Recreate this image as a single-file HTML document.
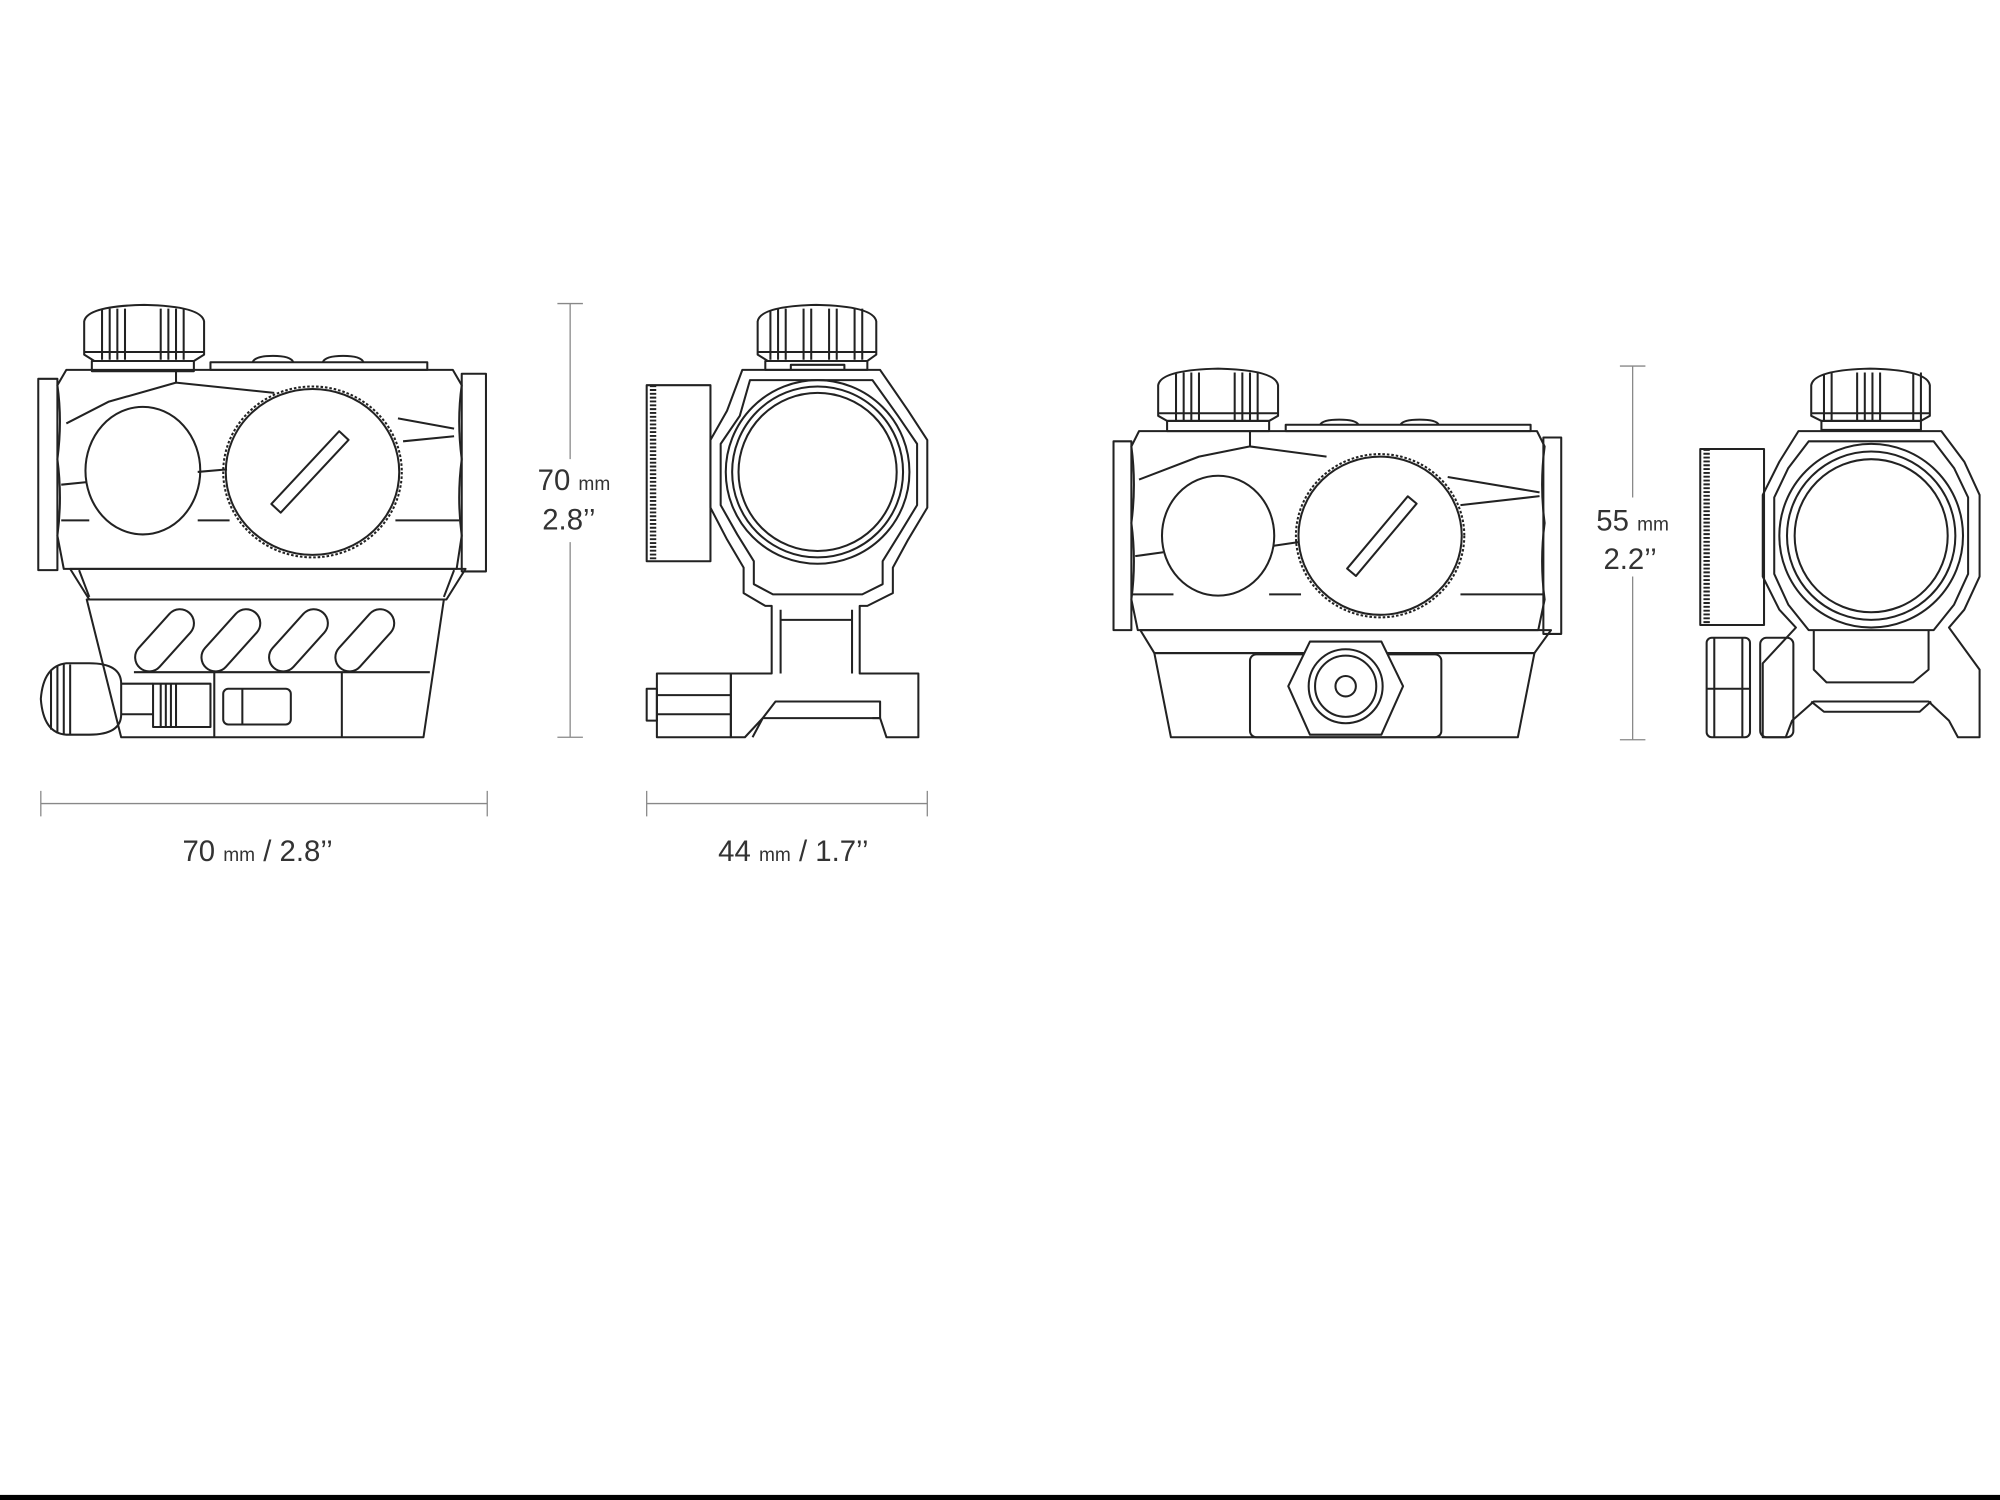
<!DOCTYPE html>
<html><head><meta charset="utf-8"><style>
html,body{margin:0;padding:0;background:#fff;}
svg{display:block;}
text{font-family:"Liberation Sans",sans-serif;fill:#333;}
</style></head><body>
<svg width="2000" height="1500" viewBox="0 0 1568 1176" xmlns="http://www.w3.org/2000/svg">
<rect width="1568" height="1176" fill="#fff"/>
<g fill="none" stroke="#222" stroke-width="1.6" stroke-linejoin="round">

<!-- ===== Sight 1 side ===== -->
<path d="M66,252 Q68,240 113,239 Q158,240 160,252 V278 L152,283 H74 L66,278 Z"/>
<path d="M80,243 V282 M86,242 V282 M92,242 V282 M98,242 V282 M126,242 V282 M132,242 V282 M138,242 V282 M144,242 V282"/>
<path d="M66,276 H160"/>
<rect x="72" y="283" width="80" height="8"/>
<rect x="30" y="297" width="15" height="150"/>
<path d="M52,290 H355 L362,302 Q358,330 362,360 Q358,390 362,420 L358,446 H50 L45,420 Q49,390 45,360 Q49,330 45,302 Z"/>
<rect x="362" y="293" width="19" height="155"/>
<rect x="165" y="284" width="170" height="6"/>
<path d="M198,284 Q200,279 214,279 Q228,279 230,284 M253,284 Q255,279 269,279 Q283,279 285,284"/>
<path d="M52,332 L85,315 L138,300 L215,308 M138,290 V300 M312,328 L356,336 M316,346 L356,342 M48,408 H70 M155,408 H180 M310,408 H360 M48,380 L68,378 M155,370 L178,368"/>
<ellipse cx="112" cy="369" rx="45" ry="50"/>
<ellipse cx="245" cy="370" rx="70" ry="67" stroke-dasharray="2 1.5"/>
<ellipse cx="245" cy="370" rx="68" ry="65"/>
<rect x="204" y="365" width="78" height="10" transform="rotate(-47 243 370)"/>
<path d="M55,446 L365,446 L350,470 H70 Z"/>
<path d="M62,447 L70,468 M356,447 L348,468"/>
<path d="M68,470 H348 L332,578 H95 Z"/>
<g>
<rect x="100" y="491" width="58" height="22" rx="11" transform="rotate(-48 129 502)"/>
<rect x="152" y="491" width="58" height="22" rx="11" transform="rotate(-48 181 502)"/>
<rect x="205" y="491" width="58" height="22" rx="11" transform="rotate(-48 234 502)"/>
<rect x="257" y="491" width="58" height="22" rx="11" transform="rotate(-48 286 502)"/>
</g>
<path d="M105,527 H337 M168,527 V578 M268,527 V578"/>
<path d="M95,536 Q95,520 70,520 H52 Q34,522 32,548 Q34,575 52,576 H70 Q95,576 95,560 Z"/>
<path d="M40,525 V572 M45,522 V575 M50,521 V576 M55,521 V576"/>
<path d="M95,536 H120 M95,560 H120"/>
<rect x="120" y="536" width="45" height="34"/>
<path d="M126,536 V570 M130,536 V570 M134,536 V570 M138,536 V570"/>
<rect x="175" y="540" width="53" height="28" rx="4"/>
<path d="M190,540 V568"/>

<!-- ===== Sight 2 front ===== -->
<path d="M594,252 Q596,240 640,239 Q685,240 687,252 V278 L680,283 H602 L594,278 Z"/>
<path d="M604,243 V282 M610,242 V282 M616,242 V282 M630,242 V282 M636,242 V282 M650,242 V282 M656,242 V282 M670,242 V282 M676,242 V282"/>
<path d="M594,276 H687"/>
<rect x="600" y="283" width="80" height="7"/>
<path d="M620,290 V286 H662 V290"/>
<path d="M582,290 H690 L712,322 L727,345 V398 L712,423 L700,445 V465 L680,475 H674 V528 H720 V578 H695 L690,563 H598 L584,578 H573 V528 H605 V475 H600 L583,465 V445 L570,423 L557,398 V345 L570,322 Z"/>
<path d="M588,298 H684 L704,326 L719,348 V396 L705,419 L692,440 V458 L676,466 H606 L591,458 V440 L578,419 L565,396 V348 L580,326 Z"/>
<circle cx="641" cy="370" r="72"/>
<circle cx="641" cy="370" r="67"/>
<circle cx="641" cy="370" r="62"/>
<rect x="507" y="302" width="50" height="138"/>
<path d="M512,302 V440" stroke-dasharray="1.5 1.5" stroke-width="5"/>
<path d="M612,478 V528 M668,478 V528 M612,486 H668"/>
<path d="M598,563 L590,578 M690,563 H684 M677,550 H690 V563 M598,563 L608,550 H677"/>
<rect x="515" y="528" width="58" height="50"/>
<rect x="507" y="540" width="8" height="25"/>
<path d="M515,545 H573 M515,560 H573"/>

<!-- ===== Sight 3 side ===== -->
<path d="M908,302 Q910,290 955,289 Q1000,290 1002,302 V326 L995,330 H915 L908,326 Z"/>
<path d="M922,293 V330 M928,292 V330 M934,292 V330 M940,292 V330 M968,292 V330 M974,292 V330 M980,292 V330 M986,292 V330"/>
<path d="M908,324 H1002"/>
<rect x="915" y="330" width="80" height="8"/>
<rect x="873" y="346" width="14" height="148"/>
<path d="M893,338 H1205 L1211,350 Q1207,380 1211,410 Q1207,440 1211,470 L1206,494 H892 L887,470 Q891,440 887,410 Q891,380 887,350 Z"/>
<rect x="1210" y="343" width="14" height="154"/>
<rect x="1008" y="333" width="192" height="5"/>
<path d="M1035,333 Q1037,329 1050,329 Q1063,329 1065,333 M1098,333 Q1100,329 1113,329 Q1126,329 1128,333"/>
<path d="M893,376 L940,358 L980,350 L1040,358 M980,338 V350 M1135,374 L1207,386 M1145,396 L1207,389 M887,466 H920 M995,466 H1020 M1145,466 H1210 M890,436 L912,433 M998,428 L1018,425"/>
<ellipse cx="955" cy="420" rx="44" ry="47"/>
<ellipse cx="1082" cy="420" rx="66" ry="64" stroke-dasharray="2 1.5"/>
<ellipse cx="1082" cy="420" rx="64" ry="62"/>
<rect x="1046" y="416" width="74" height="9" transform="rotate(-50 1083 420)"/>
<path d="M894,494 L1216,494 L1203,512 H905 Z"/>
<path d="M905,512 H1203 L1190,578 H918 Z"/>
<rect x="980" y="513" width="150" height="65" rx="5"/>
<path d="M1010,538 L1027,503 H1083 L1100,538 L1083,576 H1027 Z" fill="#fff"/>
<circle cx="1055" cy="538" r="29"/>
<circle cx="1055" cy="538" r="24"/>
<circle cx="1055" cy="538" r="8"/>

<!-- ===== Sight 4 front ===== -->
<path d="M1420,302 Q1422,290 1466,289 Q1511,290 1513,302 V326 L1506,330 H1428 L1420,326 Z"/>
<path d="M1430,293 V330 M1436,292 V330 M1456,292 V330 M1462,292 V330 M1468,292 V330 M1474,292 V330 M1500,292 V330 M1506,292 V330"/>
<path d="M1420,324 H1513"/>
<rect x="1428" y="330" width="78" height="7"/>
<path d="M1410,338 H1522 L1540,362 L1552,388 V452 L1540,478 L1528,492 L1552,525 V578 H1535 L1528,565 L1512,550 H1422 L1405,565 L1400,578 H1382 V520 L1408,492 L1395,478 L1382,452 V388 L1395,362 Z"/>
<path d="M1418,346 H1516 L1532,367 L1543,390 V450 L1532,474 L1516,494 H1418 L1402,474 L1391,450 V390 L1402,367 Z"/>
<circle cx="1467" cy="420" r="72"/>
<circle cx="1467" cy="420" r="66"/>
<circle cx="1467" cy="420" r="60"/>
<rect x="1333" y="352" width="50" height="138"/>
<path d="M1338,352 V490" stroke-dasharray="1.5 1.5" stroke-width="5"/>
<path d="M1422,494 V525 L1432,535 H1500 L1512,525 V494"/>
<path d="M1420,550 L1430,558 H1505 L1514,550"/>
<rect x="1338" y="500" width="34" height="78" rx="4"/>
<path d="M1338,540 H1372 M1344,500 V578 M1366,500 V578"/>
<rect x="1380" y="500" width="26" height="78" rx="5"/>

</g>

<!-- dimension lines -->
<g stroke="#888" stroke-width="1" fill="none">
<path d="M447,238 V360 M447,425 V578 M437,238 H457 M437,578 H457"/>
<path d="M1280,287 V390 M1280,452 V580 M1270,287 H1290 M1270,580 H1290"/>
<path d="M32,630 H382 M32,620 V640 M382,620 V640"/>
<path d="M507,630 H727 M507,620 V640 M727,620 V640"/>
</g>
<g font-size="23">
<text x="450" y="384" text-anchor="middle">70 <tspan font-size="15">mm</tspan></text>
<text x="446" y="415" text-anchor="middle">2.8’’</text>
<text x="1280" y="416" text-anchor="middle">55 <tspan font-size="15">mm</tspan></text>
<text x="1278" y="446" text-anchor="middle">2.2’’</text>
<text x="202" y="675" text-anchor="middle">70 <tspan font-size="15">mm</tspan> / 2.8’’</text>
<text x="622" y="675" text-anchor="middle">44 <tspan font-size="15">mm</tspan> / 1.7’’</text>
</g>
<rect x="0" y="1172" width="1568" height="4" fill="#000"/>
</svg>
</body></html>
